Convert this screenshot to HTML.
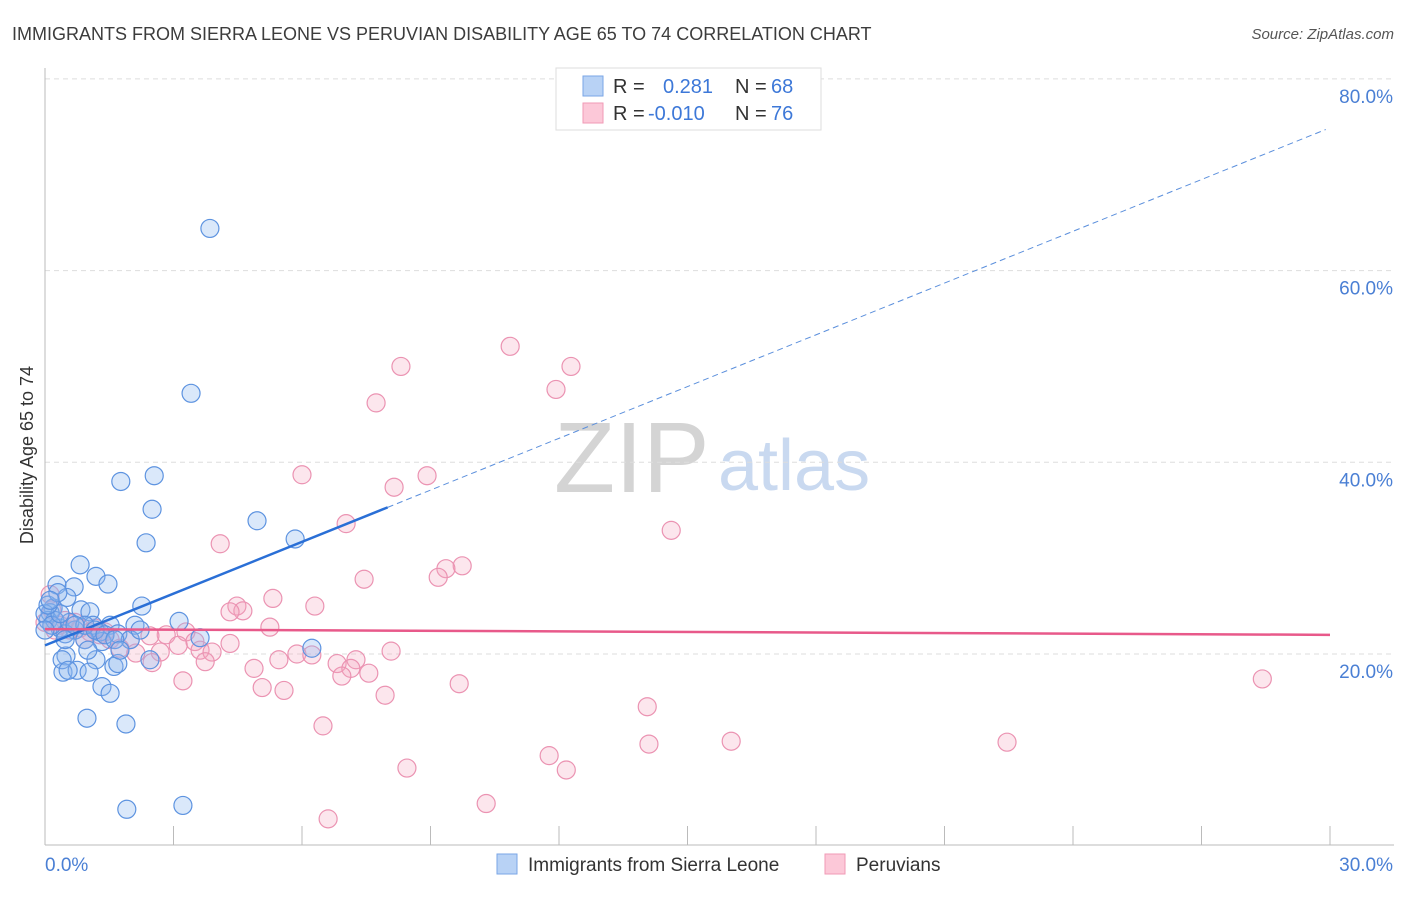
<!DOCTYPE html>
<html><head><meta charset="utf-8"><style>
body{margin:0;background:#fff;font-family:"Liberation Sans",sans-serif;}
svg text{font-family:"Liberation Sans",sans-serif;}
</style></head><body>
<svg id="chart" width="1406" height="892">
<text x="12" y="40" font-size="18" fill="#3c3c3c">IMMIGRANTS FROM SIERRA LEONE VS PERUVIAN DISABILITY AGE 65 TO 74 CORRELATION CHART</text>
<text x="1394" y="39" font-size="15" fill="#555" font-style="italic" text-anchor="end">Source: ZipAtlas.com</text>
<text x="554" y="492" font-size="100" fill="#d4d4d4" font-family="Liberation Serif">ZIP</text>
<text x="718" y="490" font-size="72" fill="#c9d9f0">atlas</text>
<text transform="translate(33,455) rotate(-90)" font-size="18" fill="#333" text-anchor="middle">Disability Age 65 to 74</text>
<g id="grid"></g><g id="axes"></g><g id="pts"></g><g id="trend"></g>
<g>
<rect x="556" y="68" width="265" height="62" fill="#fff" stroke="#ddd"/>
<rect x="583" y="76" width="20" height="20" fill="#b8d2f5" stroke="#7aa6e6"/>
<rect x="583" y="103" width="20" height="20" fill="#fcc8d8" stroke="#f09ab6"/>
<text x="613" y="93" font-size="20" fill="#333">R =</text><text x="663" y="93" font-size="20" fill="#3d78d8">0.281</text>
<text x="735" y="93" font-size="20" fill="#333">N =</text><text x="771" y="93" font-size="20" fill="#3d78d8">68</text>
<text x="613" y="120" font-size="20" fill="#333">R =</text><text x="648" y="120" font-size="20" fill="#3d78d8">-0.010</text>
<text x="735" y="120" font-size="20" fill="#333">N =</text><text x="771" y="120" font-size="20" fill="#3d78d8">76</text>
</g>
<g>
<rect x="497" y="854" width="20" height="20" fill="#b8d2f5" stroke="#7aa6e6"/>
<text x="528" y="871" font-size="19" fill="#333">Immigrants from Sierra Leone</text>
<rect x="825" y="854" width="20" height="20" fill="#fcc8d8" stroke="#f09ab6"/>
<text x="856" y="871" font-size="19" fill="#333">Peruvians</text>
</g>
</svg>
<script>
const xTicks=[0,3,6,9,12,15,18,21,24,27,30];
const yTicks=[20,40,60,80];
const yTickLabels=["20.0%","40.0%","60.0%","80.0%"];
const xEndLabels=["0.0%","30.0%"];
const blueX=[3.85,3.41,1.77,2.55,2.50,4.95,2.36,5.84,0.82,1.19,1.47,0.28,0.68,0.51,2.26,0.19,0.84,1.05,0.12,0.07,3.13,2.10,1.12,1.52,0.35,0.70,1.28,1.70,3.62,0.93,1.33,0.47,6.23,0.49,1.19,1.61,1.70,0.42,0.75,1.03,1.33,1.52,0.98,1.89,1.91,3.22,2.45,0.23,0.58,0,0.16,0.35,0.93,1.17,1.99,2.22,0.07,0.30,0.47,0.70,1.40,1.63,0,0.12,1.00,0.40,1.75,0.54];
const blueY=[64.4,47.2,38.0,38.6,35.1,33.9,31.6,32.0,29.3,28.1,27.3,27.2,27.0,25.9,25.0,24.8,24.6,24.4,24.3,23.5,23.4,23.0,23.0,23.0,22.7,22.5,22.3,22.1,21.7,21.5,21.3,22.1,20.6,19.8,19.4,18.7,19.0,18.1,18.3,18.1,16.6,15.9,13.3,12.7,3.8,4.2,19.4,23.5,23.3,24.2,23.0,24.2,23.0,22.5,21.5,22.5,25.1,26.4,21.5,23.0,22.0,21.5,22.5,25.6,20.4,19.4,20.4,18.3];
const pinkX=[10.86,8.31,12.28,11.93,7.73,6.00,8.92,8.15,7.03,14.62,4.09,9.74,9.36,9.18,7.45,5.32,6.30,4.48,4.62,4.32,5.25,3.29,2.83,2.45,3.50,3.11,4.32,1.99,1.52,3.62,3.90,2.69,1.75,2.12,5.88,6.23,8.08,7.26,5.46,6.82,3.74,2.50,4.88,7.14,7.56,6.93,3.22,5.07,5.58,9.67,7.94,14.06,6.49,14.10,16.02,22.46,11.77,12.17,8.45,10.30,6.61,28.42,0.35,0.58,0.82,0.12,0.23,1.05,1.28,0.47,0.70,0.93,1.17,1.40,0,0.16];
const pinkY=[52.1,50.0,50.0,47.6,46.2,38.7,38.6,37.4,33.6,32.9,31.5,29.2,28.9,28.0,27.8,25.8,25.0,25.0,24.5,24.4,22.8,22.3,22.0,21.9,21.3,20.9,21.1,21.5,21.5,20.4,20.2,20.2,20.6,20.1,20.0,19.9,20.3,19.4,19.4,19.0,19.2,19.1,18.5,18.5,18.0,17.7,17.2,16.5,16.2,16.9,15.7,14.5,12.5,10.6,10.9,10.8,9.4,7.9,8.1,4.4,2.8,17.4,23.0,22.5,22.7,26.2,22.5,22.3,22.0,23.5,23.3,21.5,22.7,22.3,23.3,24.6];
const blueTrend=[20.9,1.80];   // intercept, slope
const pinkTrend=[22.6,-0.02];
const blueSolidEnd=8.0, blueDashEnd=29.9;

const NS="http://www.w3.org/2000/svg";
const X0=45,X1=1330,Y0=845.7,PY=9.585;
const sx=v=>X0+(X1-X0)*v/30;
const sy=v=>Y0-v*PY;
function mk(tag,attrs,parent){const e=document.createElementNS(NS,tag);for(const k in attrs)e.setAttribute(k,attrs[k]);document.getElementById(parent).appendChild(e);return e;}

yTicks.forEach((t,i)=>{
 const l=mk('line',{x1:X0,x2:1394,y1:sy(t),y2:sy(t),stroke:'#ddd','stroke-dasharray':'5,4'},'grid');
 
 
 const tx=mk('text',{x:1393,y:sy(t)+24,'font-size':19,fill:'#4a7fd4','text-anchor':'end'},'grid');
 tx.textContent=yTickLabels[i];
 
 
});
const ax=mk('line',{x1:X0,x2:1394,y1:845,y2:845,stroke:'#bbb'},'axes');


const ay=mk('line',{x1:X0,x2:X0,y1:68,y2:845,stroke:'#bbb'},'axes');


xTicks.forEach(t=>{
 const l=mk('line',{x1:sx(t),x2:sx(t),y1:826,y2:845,stroke:'#bbb'},'axes');
 
 
});
const xl0=mk('text',{x:45,y:871,'font-size':19,fill:'#4a7fd4'},'axes');xl0.textContent=xEndLabels[0];


const xl1=mk('text',{x:1393,y:871,'font-size':19,fill:'#4a7fd4','text-anchor':'end'},'axes');xl1.textContent=xEndLabels[1];



pinkX.forEach((v,i)=>{
 const c=mk('circle',{cx:sx(v),cy:sy(pinkY[i]),r:9,fill:'rgba(245,165,192,0.28)',stroke:'#eb93b2','stroke-width':1.2},'pts');
 
 
});
blueX.forEach((v,i)=>{
 const c=mk('circle',{cx:sx(v),cy:sy(blueY[i]),r:9,fill:'rgba(140,182,238,0.32)',stroke:'#5d93e0','stroke-width':1.2},'pts');
 
 
});
const bt=v=>blueTrend[0]+blueTrend[1]*v, pt=v=>pinkTrend[0]+pinkTrend[1]*v;
const l1=mk('line',{x1:sx(0),y1:sy(bt(0)),x2:sx(blueSolidEnd),y2:sy(bt(blueSolidEnd)),stroke:'#2a6fd6','stroke-width':2.5},'trend');


const l2=mk('line',{x1:sx(blueSolidEnd),y1:sy(bt(blueSolidEnd)),x2:sx(blueDashEnd),y2:sy(bt(blueDashEnd)),stroke:'#5b8fdc','stroke-width':1,'stroke-dasharray':'6,4'},'trend');


const l3=mk('line',{x1:sx(0),y1:sy(pt(0)),x2:sx(30),y2:sy(pt(30)),stroke:'#e8598a','stroke-width':2.5},'trend');


</script>
</body></html>
